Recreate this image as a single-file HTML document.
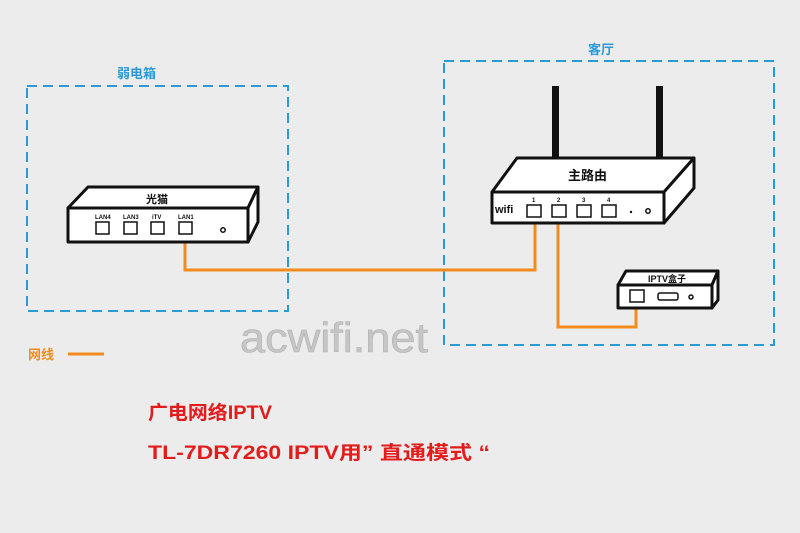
<!DOCTYPE html>
<html><head><meta charset="utf-8"><style>
html,body{margin:0;padding:0;background:#ececec;}
svg{display:block}
text{font-family:"Liberation Sans","Noto Sans CJK SC",sans-serif;font-weight:bold}
</style></head><body>
<svg width="800" height="533" viewBox="0 0 800 533" xmlns="http://www.w3.org/2000/svg">
<rect width="800" height="533" fill="#ececec"/>
<rect x="27" y="86" width="261" height="225" fill="none" stroke="#2a9ad6" stroke-width="2" stroke-dasharray="10,6"/>
<rect x="444" y="61" width="330" height="284" fill="none" stroke="#2a9ad6" stroke-width="2" stroke-dasharray="10,6"/>
<text x="117" y="78" font-size="13" fill="#2a9ad6">弱电箱</text>
<text x="588" y="54" font-size="13" fill="#2a9ad6">客厅</text>

<g fill="none" stroke="#f28c1e" stroke-width="3">
<polyline points="185,234 185,270 535,270 535,217"/>
<polyline points="558,217 558,327 636,327 636,302"/>
<line x1="68" y1="354" x2="104" y2="354"/>
</g>

<g fill="#fff" stroke="#111" stroke-width="3" stroke-linejoin="round">
<polygon points="68,208 88,187 258,187 248,208"/>
<polygon points="248,208 258,187 258,222 248,242"/>
<rect x="68" y="208" width="180" height="34"/>
</g>
<g fill="#fff" stroke="#111" stroke-width="1.5">
<rect x="96" y="222" width="13" height="12"/>
<rect x="124" y="222" width="13" height="12"/>
<rect x="151" y="222" width="13" height="12"/>
<rect x="179" y="222" width="13" height="12"/>
<circle cx="223" cy="230" r="2.2"/>
</g>
<text x="146" y="203" font-size="11" fill="#111">光猫</text>
<g font-size="6" fill="#111"><text x="95" y="219">LAN4</text><text x="123" y="219">LAN3</text><text x="152" y="219">iTV</text><text x="178" y="219">LAN1</text></g>

<g fill="#111"><rect x="552" y="86" width="7" height="73"/><rect x="656" y="86" width="7" height="73"/></g>
<g fill="#fff" stroke="#111" stroke-width="3" stroke-linejoin="round">
<polygon points="492,192 517,158 694,158 664,192"/>
<polygon points="664,192 694,158 694,188 664,223"/>
<rect x="492" y="192" width="172" height="31"/>
</g>
<text x="568" y="180" font-size="13" fill="#111">主路由</text>
<text x="495" y="213" font-size="11" fill="#111">wifi</text>
<g fill="#fff" stroke="#111" stroke-width="1.5">
<rect x="527" y="205" width="14" height="12"/>
<rect x="552" y="205" width="14" height="12"/>
<rect x="577" y="205" width="14" height="12"/>
<rect x="602" y="205" width="14" height="12"/>
<circle cx="648" cy="211" r="2.2"/>
</g>
<circle cx="631" cy="212" r="1.2" fill="#111"/>
<g font-size="6" fill="#111"><text x="532" y="202">1</text><text x="557" y="202">2</text><text x="582" y="202">3</text><text x="607" y="202">4</text></g>

<g fill="#fff" stroke="#111" stroke-width="3" stroke-linejoin="round">
<polygon points="618,285 626,271 718,271 712,285"/>
<polygon points="712,285 718,271 718,300 712,308"/>
<rect x="618" y="285" width="94" height="23"/>
</g>
<text x="648" y="282" font-size="9" fill="#111">IPTV盒子</text>
<g fill="#fff" stroke="#111" stroke-width="1.5">
<rect x="630" y="290" width="14" height="12"/>
<rect x="658" y="293" width="20" height="7" rx="2"/>
<circle cx="691" cy="297" r="2"/>
</g>

<text x="28" y="359" font-size="13" fill="#f28c1e">网线</text>
<text x="240" y="352" font-size="42" fill="#c6c6c6" stroke="#b0b0b0" stroke-width="0.6" textLength="188" lengthAdjust="spacingAndGlyphs" style="font-weight:normal">acwifi.net</text>
<text x="148" y="419" font-size="19" fill="#e31b1b" textLength="124" lengthAdjust="spacingAndGlyphs">广电网络IPTV</text>
<text x="148" y="459" font-size="19" fill="#e31b1b" textLength="342" lengthAdjust="spacingAndGlyphs">TL-7DR7260 IPTV用” 直通模式 “</text>
</svg>
</body></html>
